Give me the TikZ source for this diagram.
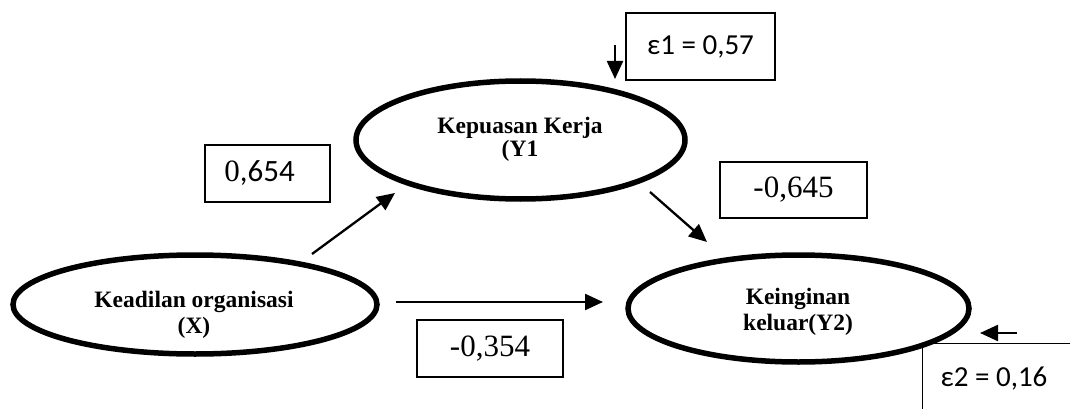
\documentclass[tikz,border=0pt]{standalone}
\usepackage{fontspec}
\setmainfont{Liberation Serif}
\newfontfamily\calfont{Carlito}
\usetikzlibrary{shapes.geometric,arrows.meta}
\tikzset{
  ell/.style={ellipse, draw, line width=5.5pt, inner sep=0pt},
  lbl/.style={anchor=base, inner sep=0pt, font=\fontsize{23.5}{26}\selectfont\bfseries},
  numbox/.style={draw, line width=1.4pt, inner sep=0pt, font=\fontsize{31}{34}\selectfont},
  epsbox/.style={draw, line width=1.4pt, inner sep=0pt, font=\fontsize{29}{32}\calfont},
  arr/.style={line width=2.3pt, -{Triangle[length=18pt,width=16pt]}},
}
\begin{document}
\begin{tikzpicture}[x=1pt,y=-1pt]
\useasboundingbox (0,0) rectangle (1070,409);
\clip (0,0) rectangle (1070,409);
% ellipses
\node[ell, minimum width=364pt, minimum height=99pt] (X) at (195,304.5) {};
\node[ell, minimum width=329pt, minimum height=118pt] (Y1) at (520.5,140) {};
\node[ell, minimum width=341pt, minimum height=107pt] (Y2) at (798.5,308.5) {};
% ellipse texts
\node[lbl] (x1) at (194,307) {Keadilan organisasi};
\node[lbl] (x2) at (194,333) {(X)};
\node[lbl] (y11) at (520,133) {Kepuasan Kerja};
\node[lbl] (y12) at (520,157) {(Y1};
\node[lbl] (y21) at (798,304) {Keinginan};
\node[lbl] (y22) at (798,330) {keluar(Y2)};
% coefficient boxes
\node[numbox, minimum width=125pt, minimum height=57pt] (b1) at (267.5,173.5) {0{\calfont ,654}\kern16pt};
\node[numbox, minimum width=147pt, minimum height=56pt] (b2) at (793.5,190) {-0,645};
\node[numbox, minimum width=146pt, minimum height=57pt] (b3) at (490,348.5) {-0,354};
% error boxes
\node[epsbox, minimum width=149pt, minimum height=67pt] (e1) at (700.5,46.5) {ε1 = 0,57};
\node[draw, line width=1.4pt, anchor=north west, minimum width=220pt, minimum height=110pt] (e2box) at (922,343) {};
\node[anchor=base, inner sep=0pt, font=\fontsize{29}{32}\calfont] (e2) at (994,386) {ε2 = 0,16};
% arrow end points
\coordinate (a1s) at (312,254);
\coordinate (a1e) at (395,193);
\coordinate (a2s) at (650,192);
\coordinate (a2e) at (707,242);
\coordinate (a3s) at (396,302);
\coordinate (a3e) at (603,302);
\coordinate (a4s) at (615,45);
\coordinate (a4e) at (615,79);
\coordinate (a5s) at (1017,333);
\coordinate (a5e) at (980,333);
\draw[arr] (a1s) -- (a1e);
\draw[arr] (a2s) -- (a2e);
\draw[arr] (a3s) -- (a3e);
\draw[arr] (a4s) -- (a4e);
\draw[arr] (a5s) -- (a5e);
\end{tikzpicture}
\end{document}
